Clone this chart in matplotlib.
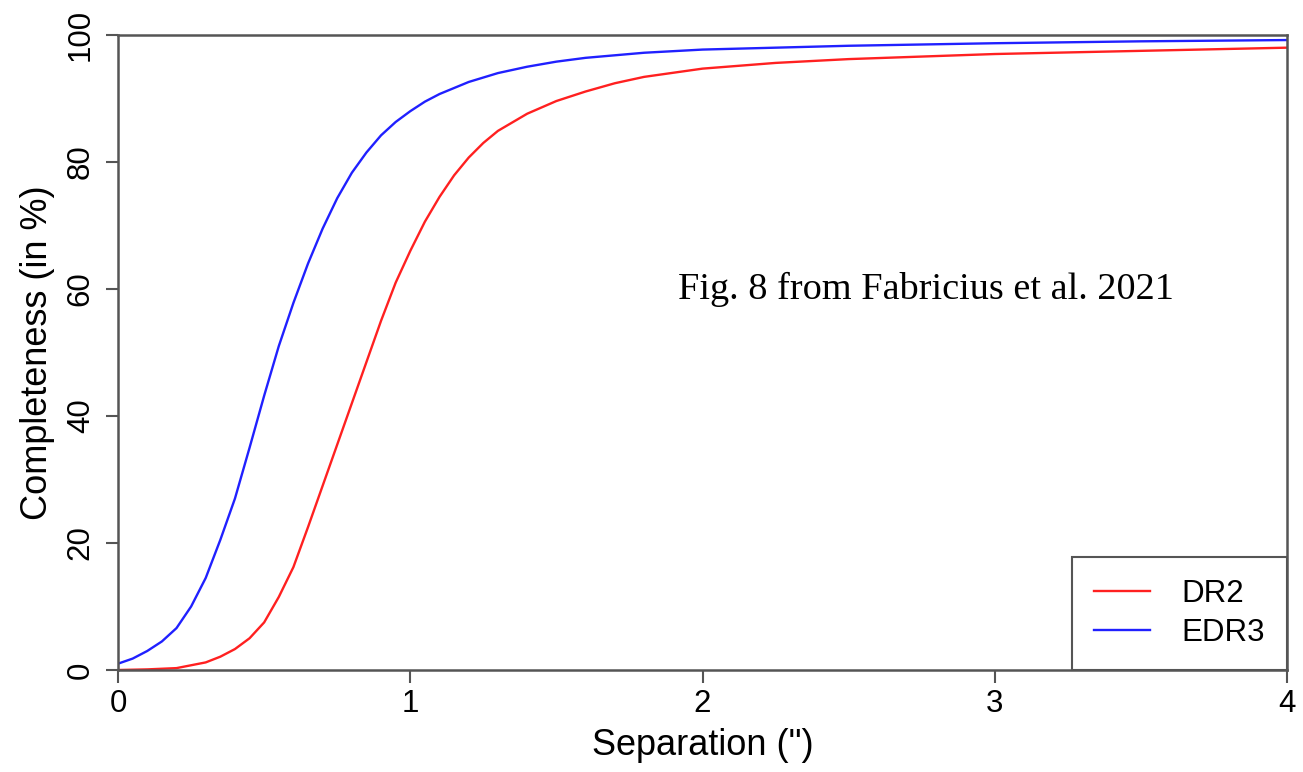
"""Completeness of Gaia DR2 vs EDR3 as a function of pair separation."""
import matplotlib
matplotlib.use("Agg")
import matplotlib.pyplot as plt

# values
sep_dr2 = [0.0, 0.1, 0.2, 0.3, 0.35, 0.4, 0.45, 0.5, 0.55, 0.6, 0.65, 0.7,
           0.75, 0.8, 0.85, 0.9, 0.95, 1.0, 1.05, 1.1, 1.15, 1.2, 1.25, 1.3,
           1.4, 1.5, 1.6, 1.7, 1.8, 2.0, 2.25, 2.5, 3.0, 3.5, 4.0]
comp_dr2 = [0.0, 0.1, 0.3, 1.2, 2.1, 3.3, 5.0, 7.5, 11.5, 16.2, 22.5, 29.0,
            35.5, 42.0, 48.5, 55.0, 61.0, 66.0, 70.6, 74.5, 77.9, 80.7, 83.0,
            84.9, 87.6, 89.6, 91.1, 92.4, 93.4, 94.7, 95.6, 96.2, 97.0, 97.5,
            98.0]

sep_edr3 = [0.0, 0.05, 0.1, 0.15, 0.2, 0.25, 0.3, 0.35, 0.4, 0.45, 0.5, 0.55,
            0.6, 0.65, 0.7, 0.75, 0.8, 0.85, 0.9, 0.95, 1.0, 1.05, 1.1, 1.2,
            1.3, 1.4, 1.5, 1.6, 1.8, 2.0, 2.5, 3.0, 3.5, 4.0]
comp_edr3 = [1.0, 1.8, 3.0, 4.5, 6.6, 10.0, 14.5, 20.5, 27.0, 35.0, 43.2, 51.0,
             57.8, 64.0, 69.5, 74.3, 78.3, 81.5, 84.2, 86.3, 88.0, 89.5, 90.7,
             92.6, 94.0, 95.0, 95.8, 96.4, 97.2, 97.7, 98.3, 98.7, 99.0, 99.2]

x_ticks = [0, 1, 2, 3, 4]
y_ticks = [0, 20, 40, 60, 80, 100]

plt.rcParams["font.family"] = ["Liberation Sans", "DejaVu Sans"]

fig = plt.figure(figsize=(13.03, 7.72), dpi=100)
ax = fig.add_axes([0.0906, 0.1321, 0.8971, 0.8226])

ax.plot(sep_dr2, comp_dr2, color="#ff2020", lw=1.7, label="DR2")
ax.plot(sep_edr3, comp_edr3, color="#2020ff", lw=1.7, label="EDR3")

ax.set_xlim(0, 4)
ax.set_ylim(0, 100)
ax.set_xticks(x_ticks)
ax.set_yticks(y_ticks)
ax.tick_params(axis="both", direction="out", length=9, width=1.5,
               color="#555555", labelsize=22.5)
ax.tick_params(axis="x", pad=5)
ax.tick_params(axis="y", pad=7)
for lab in ax.get_yticklabels():
    lab.set_rotation(90)
    lab.set_va("center")
for sp in ax.spines.values():
    sp.set_color("#555555")
    sp.set_linewidth(1.8)

ax.set_xlabel("Separation (\")", fontsize=26, labelpad=6)
ax.set_ylabel("Completeness (in %)", fontsize=26, labelpad=8)

ax.text(0.479, 0.60, "Fig. 8 from Fabricius et al. 2021",
        transform=ax.transAxes, fontsize=27.5, family="Liberation Serif",
        va="center", ha="left")

leg = ax.legend(loc="lower right", borderaxespad=0, fontsize=22.5,
                fancybox=False, handlelength=1.8, handletextpad=1.0,
                borderpad=0.7, labelspacing=0.3, framealpha=1)
leg.get_frame().set_edgecolor("#555555")
leg.get_frame().set_linewidth(1.5)

fig.savefig("out.png", dpi=100)
